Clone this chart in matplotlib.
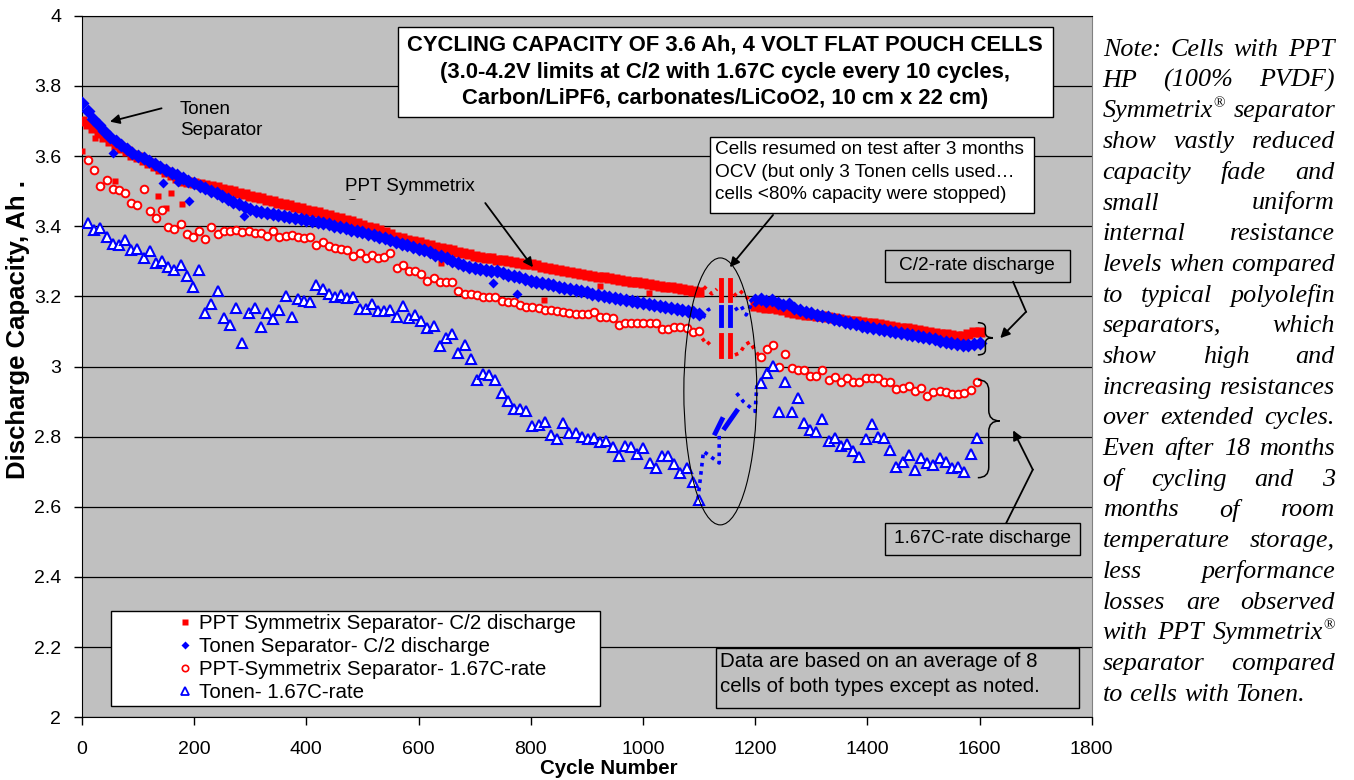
import matplotlib
matplotlib.use('Agg')
from matplotlib import pyplot as plt
from matplotlib.patches import Rectangle, Ellipse, PathPatch
from matplotlib.path import Path
from matplotlib.lines import Line2D
from matplotlib.font_manager import FontProperties
from matplotlib.transforms import Bbox, TransformedBbox
from matplotlib.ticker import FuncFormatter

plt.rcParams['font.family'] = ['Liberation Sans', 'DejaVu Sans']

# ---- data ----
# C/2 discharge, one reading every 10 cycles (before and after the 3 month OCV stop)
c2_cycles = list(range(0, 1101, 10)) + list(range(1200, 1601, 10))

ppt_c2 = [
    3.700, 3.690, 3.679, 3.667, 3.655, 3.643, 3.632, 3.622, 3.613, 3.604,
    3.596, 3.588, 3.580, 3.571, 3.563, 3.554, 3.546, 3.538, 3.530, 3.526,
    3.523, 3.520, 3.517, 3.514, 3.511, 3.507, 3.503, 3.499, 3.495, 3.491,
    3.487, 3.483, 3.479, 3.475, 3.471, 3.467, 3.463, 3.459, 3.455, 3.451,
    3.447, 3.443, 3.439, 3.435, 3.431, 3.427, 3.423, 3.418, 3.414, 3.409,
    3.404, 3.399, 3.394, 3.390, 3.384, 3.377, 3.370, 3.365, 3.361, 3.358,
    3.354, 3.349, 3.345, 3.341, 3.338, 3.334, 3.331, 3.327, 3.324, 3.321,
    3.316, 3.313, 3.310, 3.308, 3.305, 3.303, 3.300, 3.298, 3.295, 3.293,
    3.291, 3.288, 3.285, 3.282, 3.279, 3.276, 3.273, 3.270, 3.267, 3.264,
    3.261, 3.259, 3.256, 3.254, 3.252, 3.249, 3.247, 3.244, 3.242, 3.240,
    3.237, 3.235, 3.233, 3.230, 3.228, 3.226, 3.223, 3.221, 3.218, 3.215,
    3.212,
    3.172, 3.170, 3.168, 3.166, 3.163, 3.160, 3.156, 3.152, 3.150, 3.148,
    3.146, 3.144, 3.143, 3.141, 3.138, 3.135, 3.133, 3.131, 3.129, 3.127,
    3.125, 3.123, 3.121, 3.119, 3.116, 3.114, 3.111, 3.109, 3.106, 3.103,
    3.101, 3.099, 3.096, 3.094, 3.092, 3.090, 3.088, 3.088, 3.092, 3.097,
    3.099,
]
ppt_c2_odd_cycles = [0, 23, 59, 135, 150, 158, 178, 334, 640, 824, 923, 1010]
ppt_c2_odd = [3.615, 3.652, 3.530, 3.486, 3.451, 3.496, 3.463, 3.432, 3.295, 3.190, 3.230, 3.209]

tonen_c2 = [
    3.750, 3.728, 3.706, 3.688, 3.670, 3.655, 3.642, 3.630, 3.620, 3.610,
    3.601, 3.593, 3.585, 3.577, 3.569, 3.561, 3.553, 3.545, 3.537, 3.529,
    3.522, 3.515, 3.508, 3.501, 3.494, 3.486, 3.478, 3.470, 3.462, 3.454,
    3.448, 3.444, 3.440, 3.437, 3.434, 3.431, 3.428, 3.425, 3.422, 3.420,
    3.418, 3.416, 3.413, 3.409, 3.405, 3.401, 3.398, 3.394, 3.390, 3.386,
    3.382, 3.378, 3.374, 3.370, 3.366, 3.361, 3.355, 3.350, 3.346, 3.342,
    3.336, 3.331, 3.325, 3.319, 3.314, 3.309, 3.302, 3.296, 3.289, 3.285,
    3.281, 3.278, 3.275, 3.272, 3.271, 3.266, 3.262, 3.258, 3.254, 3.249,
    3.244, 3.241, 3.238, 3.234, 3.231, 3.228, 3.224, 3.221, 3.217, 3.214,
    3.211, 3.208, 3.205, 3.202, 3.199, 3.196, 3.193, 3.190, 3.187, 3.184,
    3.181, 3.178, 3.175, 3.172, 3.169, 3.166, 3.163, 3.160, 3.157, 3.154,
    3.151,
    3.190, 3.192, 3.188, 3.190, 3.182, 3.175, 3.178, 3.168, 3.160, 3.156,
    3.152, 3.148, 3.144, 3.140, 3.136, 3.132, 3.128, 3.124, 3.120, 3.116,
    3.113, 3.110, 3.107, 3.104, 3.101, 3.098, 3.095, 3.092, 3.089, 3.086,
    3.083, 3.080, 3.077, 3.074, 3.071, 3.068, 3.065, 3.062, 3.061, 3.064,
    3.067,
]
tonen_c2_odd_cycles = [55, 145, 172, 191, 289, 732, 775]
tonen_c2_odd = [3.610, 3.524, 3.527, 3.473, 3.429, 3.238, 3.206]

# 1.67C-rate discharge, every 11th cycle
rate_cycles = list(range(11, 1101, 11)) + list(range(1210, 1596, 11))

ppt_rate = [
    3.589, 3.560, 3.515, 3.532, 3.505, 3.503, 3.494, 3.467, 3.460, 3.505,
    3.444, 3.423, 3.446, 3.397, 3.392, 3.406, 3.378, 3.370, 3.385, 3.363,
    3.399, 3.378, 3.387, 3.387, 3.388, 3.382, 3.385, 3.380, 3.380, 3.373,
    3.387, 3.368, 3.372, 3.375, 3.368, 3.366, 3.368, 3.347, 3.354, 3.344,
    3.339, 3.334, 3.333, 3.316, 3.323, 3.309, 3.318, 3.309, 3.311, 3.323,
    3.280, 3.290, 3.272, 3.273, 3.265, 3.245, 3.252, 3.241, 3.241, 3.240,
    3.216, 3.208, 3.207, 3.205, 3.198, 3.198, 3.197, 3.187, 3.185, 3.183,
    3.176, 3.171, 3.169, 3.166, 3.162, 3.160, 3.157, 3.155, 3.152, 3.150,
    3.149, 3.150, 3.154, 3.141, 3.142, 3.138, 3.117, 3.125, 3.124, 3.124,
    3.125, 3.124, 3.124, 3.107, 3.106, 3.112, 3.112, 3.109, 3.097, 3.100,
    3.027, 3.050, 3.062, 2.998, 3.035, 2.995, 2.991, 2.989, 2.974, 2.974,
    2.989, 2.962, 2.971, 2.957, 2.967, 2.957, 2.956, 2.967, 2.967, 2.967,
    2.957, 2.957, 2.936, 2.938, 2.943, 2.931, 2.938, 2.917, 2.926, 2.931,
    2.927, 2.921, 2.921, 2.924, 2.934, 2.955,
]

tonen_rate = [
    3.409, 3.390, 3.395, 3.369, 3.350, 3.345, 3.360, 3.331, 3.335, 3.310,
    3.329, 3.295, 3.300, 3.284, 3.276, 3.288, 3.259, 3.227, 3.274, 3.153,
    3.177, 3.214, 3.137, 3.118, 3.167, 3.068, 3.153, 3.167, 3.112, 3.153,
    3.134, 3.162, 3.202, 3.140, 3.193, 3.186, 3.183, 3.231, 3.221, 3.208,
    3.199, 3.203, 3.194, 3.197, 3.165, 3.165, 3.179, 3.158, 3.158, 3.162,
    3.142, 3.172, 3.139, 3.146, 3.129, 3.110, 3.115, 3.058, 3.082, 3.093,
    3.039, 3.061, 3.022, 2.961, 2.979, 2.977, 2.962, 2.925, 2.902, 2.878,
    2.878, 2.873, 2.830, 2.834, 2.843, 2.806, 2.794, 2.840, 2.811, 2.811,
    2.799, 2.794, 2.797, 2.785, 2.787, 2.770, 2.746, 2.773, 2.770, 2.751,
    2.768, 2.724, 2.710, 2.746, 2.746, 2.721, 2.695, 2.711, 2.672, 2.620,
    2.953, 2.982, 3.001, 2.870, 2.955, 2.870, 2.911, 2.840, 2.818, 2.814,
    2.849, 2.787, 2.797, 2.773, 2.778, 2.759, 2.742, 2.794, 2.835, 2.800,
    2.797, 2.761, 2.714, 2.728, 2.749, 2.705, 2.738, 2.726, 2.719, 2.740,
    2.728, 2.711, 2.714, 2.700, 2.751, 2.797,
]

series_labels = ['PPT Symmetrix Separator- C/2 discharge', 'Tonen Separator- C/2 discharge',
                 'PPT-Symmetrix Separator- 1.67C-rate', 'Tonen- 1.67C-rate']

note_lines = [
    'Note: Cells with PPT', 'HP (100% PVDF)', 'Symmetrix® separator', 'show vastly reduced',
    'capacity fade and', 'small uniform', 'internal resistance', 'levels when compared',
    'to typical polyolefin', 'separators, which', 'show high and', 'increasing resistances',
    'over extended cycles.', 'Even after 18 months', 'of cycling and 3', 'months of room',
    'temperature storage,', 'less performance', 'losses are observed', 'with PPT Symmetrix®',
    'separator compared', 'to cells with Tonen.',
]

RED = '#FF0000'
BLUE = '#0000FF'
GRAY = '#C0C0C0'

W, H = 1354, 780
fig = plt.figure(figsize=(W / 100, H / 100), dpi=100)
ax = fig.add_axes([81.9 / W, 62.7 / H, 1009.8 / W, 701.6 / H])
ax.set_facecolor(GRAY)
ax.set_xlim(0, 1800)
ax.set_ylim(2, 4)
ax.set_xticks(range(0, 1801, 200))
ax.set_yticks([2 + 0.2 * i for i in range(11)])
ax.yaxis.set_major_formatter(FuncFormatter(lambda v, p: '%g' % round(v, 1)))
ax.yaxis.grid(True, color='black', lw=0.9)
ax.set_axisbelow(True)
ax.tick_params(direction='out', length=6, width=1, labelsize=14, colors='black')
ax.tick_params(axis='x', pad=11)
ax.tick_params(axis='y', pad=9)
for s in ['left', 'bottom', 'top']:
    ax.spines[s].set_color('black')
ax.spines['right'].set_color('#808080')

# ---- series ----
ax.plot(c2_cycles, ppt_c2, 's', color=RED, ms=6.6, mec='none', zorder=3)
ax.plot(ppt_c2_odd_cycles, ppt_c2_odd, 's', color=RED, ms=4.6, mec='none', zorder=3)
ax.plot(c2_cycles, tonen_c2, 'D', color=BLUE, ms=7.0, mec='none', zorder=3)
ax.plot(tonen_c2_odd_cycles, tonen_c2_odd, 'D', color=BLUE, ms=5.2, mec='none', zorder=3)
ax.plot(rate_cycles, ppt_rate, 'o', mfc='white', mec=RED, mew=1.4, ms=5.5, zorder=4)
ax.plot(rate_cycles, tonen_rate, '^', mfc='white', mec=BLUE, mew=1.5, ms=7.5, zorder=4)

# ---- break marks in the storage gap ----
dots = dict(ls=(0, (1, 1.3)), lw=2.6, zorder=3)
ax.plot([1096, 1107, 1123, 1132], [3.219, 3.230, 3.207, 3.221], color=RED, **dots)
ax.plot([1162, 1173, 1184, 1196], [3.201, 3.216, 3.199, 3.180], color=RED, **dots)
ax.plot([1097, 1107, 1116, 1125], [3.155, 3.138, 3.161, 3.170], color=BLUE, **dots)
ax.plot([1164, 1175, 1184, 1193], [3.161, 3.173, 3.147, 3.176], color=BLUE, **dots)
ax.plot([1098, 1105, 1114, 1123], [3.100, 3.082, 3.062, 3.076], color=RED, **dots)
ax.plot([1164, 1173, 1182, 1191, 1199, 1208], [3.033, 3.039, 3.062, 3.070, 3.048, 3.028], color=RED, **dots)
ax.plot([1098, 1108, 1120, 1136, 1136], [2.621, 2.758, 2.744, 2.725, 2.810], color=BLUE, **dots)
ax.plot([1167, 1179, 1200, 1203, 1209], [2.924, 2.900, 2.872, 2.943, 2.953], color=BLUE, **dots)
for bx in (1139, 1155):
    ax.plot([bx, bx], [3.189, 3.247], color=RED, lw=3.5, zorder=3)
    ax.plot([bx, bx], [3.119, 3.171], color=BLUE, lw=3.5, zorder=3)
    ax.plot([bx, bx], [3.030, 3.090], color=RED, lw=3.5, zorder=3)
ax.plot([1129, 1141], [2.810, 2.849], color=BLUE, lw=3.5, zorder=3)
ax.plot([1146, 1167], [2.825, 2.873], color=BLUE, lw=3.5, zorder=3)
ax.add_patch(Ellipse((1138, 2.929), 130, 0.761, fill=False, ec='black', lw=0.8, zorder=5))

# ---- annotations ----
arrow = dict(arrowstyle='-|>', color='black', lw=1.3, mutation_scale=14, shrinkA=0, shrinkB=0)
ax.annotate('', xy=(50, 3.698), xytext=(142, 3.736), arrowprops=arrow, zorder=6)
ax.text(175, 3.703, 'Tonen\nSeparator', fontsize=13.5, va='center', ha='left',
        linespacing=1.25, zorder=6)

ax.text(469, 3.512, 'PPT Symmetrix', fontsize=13.5, va='center', ha='left', zorder=2)
t2 = ax.text(469, 3.452, 'Separator', fontsize=13.5, va='center', ha='left', zorder=2)
t2.set_clip_box(TransformedBbox(Bbox([[300, 3.474], [900, 3.7]]), ax.transData))
t2.set_clip_on(True)
ax.annotate('', xy=(804, 3.283), xytext=(719, 3.466), arrowprops=arrow, zorder=6)

ax.add_patch(Rectangle((564, 3.711), 1167, 0.257, fc='white', ec='black', lw=1, zorder=6))
for ty, line in zip([3.917, 3.838, 3.764],
                    ['CYCLING CAPACITY OF 3.6 Ah, 4 VOLT FLAT POUCH CELLS',
                     '(3.0-4.2V limits at C/2 with 1.67C cycle every 10 cycles,',
                     'Carbon/LiPF6, carbonates/LiCoO2, 10 cm x 22 cm)']):
    ax.text(1147, ty, line, fontsize=15.8, fontweight='bold', ha='center', va='center', zorder=7)

ax.add_patch(Rectangle((1119.5, 3.438), 578, 0.216, fc='white', ec='black', lw=1, zorder=6))
for ty, line in zip([3.620, 3.554, 3.489],
                    ['Cells resumed on test after 3 months',
                     'OCV (but only 3 Tonen cells used\u2026',
                     'cells <80% capacity were stopped)']):
    ax.text(1129, ty, line, fontsize=13.7, ha='left', va='center', zorder=7)
ax.annotate('', xy=(1155, 3.283), xytext=(1232, 3.432), arrowprops=arrow, zorder=6)

ax.add_patch(Rectangle((1431, 3.241), 330, 0.091, fc=GRAY, ec='black', lw=1, zorder=6))
ax.text(1596, 3.2865, 'C/2-rate discharge', fontsize=13.7, ha='center', va='center', zorder=7)
ax.add_patch(Rectangle((1431, 2.464), 348, 0.091, fc=GRAY, ec='black', lw=1, zorder=6))
ax.text(1605, 2.5095, '1.67C-rate discharge', fontsize=13.7, ha='center', va='center', zorder=7)

ax.plot([1660, 1683], [3.241, 3.156], color='black', lw=1.3, zorder=6)
ax.annotate('', xy=(1637, 3.081), xytext=(1683, 3.156), arrowprops=arrow, zorder=6)
ax.plot([1648, 1695], [2.555, 2.706], color='black', lw=1.3, zorder=6)
ax.annotate('', xy=(1660, 2.818), xytext=(1695, 2.706), arrowprops=arrow, zorder=6)


def brace(x, y0, ym, y1, w, r):
    xm = x + w / 2
    verts = [(x, y1), (xm, y1), (xm, y1 - r), (xm, ym + r), (xm, ym), (x + w, ym),
             (xm, ym), (xm, ym - r), (xm, y0 + r), (xm, y0), (x, y0)]
    codes = [Path.MOVETO, Path.CURVE3, Path.CURVE3, Path.LINETO, Path.CURVE3, Path.CURVE3,
             Path.CURVE3, Path.CURVE3, Path.LINETO, Path.CURVE3, Path.CURVE3]
    ax.add_patch(PathPatch(Path(verts, codes), fill=False, ec='black', lw=1.1, zorder=6))


brace(1597, 3.033, 3.082, 3.125, 27, 0.014)
brace(1597, 2.683, 2.845, 2.962, 39, 0.03)

ax.add_patch(Rectangle((1130, 2.027), 647, 0.171, fc=GRAY, ec='black', lw=1, zorder=6))
ax.text(1138, 2.159, 'Data are based on an average of 8', fontsize=14.8, ha='left', va='center', zorder=7)
ax.text(1138, 2.087, 'cells of both types except as noted.', fontsize=14.8, ha='left', va='center', zorder=7)

# legend with its own white frame
ax.add_patch(Rectangle((52, 2.033), 872, 0.271, fc='white', ec='black', lw=1, zorder=6))
handles = [
    Line2D([], [], ls='none', marker='s', color=RED, mec='none', ms=4.4),
    Line2D([], [], ls='none', marker='D', color=BLUE, mec='none', ms=4.0),
    Line2D([], [], ls='none', marker='o', mfc='white', mec=RED, mew=1.2, ms=4.6),
    Line2D([], [], ls='none', marker='^', mfc='white', mec=BLUE, mew=1.3, ms=6.2),
]
leg = ax.legend(handles, series_labels, loc='upper left', bbox_to_anchor=(0.0937, 0.1472),
                frameon=False, fontsize=14.8, handlelength=0.8, handletextpad=0.3,
                borderpad=0, borderaxespad=0, labelspacing=0.2)
leg.set_zorder(7)

fig.text(609 / W, 1 - 768 / H, 'Cycle Number', fontsize=14.8, fontweight='bold',
         ha='center', va='center')
fig.text(18 / W, 1 - 329.5 / H, 'Discharge Capacity, Ah .', fontsize=18.5, fontweight='bold',
         ha='center', va='center', rotation=90)

# ---- justified italic note on the right ----
fig.canvas.draw()
renderer = fig.canvas.get_renderer()
fp = FontProperties(family='Liberation Serif', style='italic', size=18.8)
fp_sup = FontProperties(family='Liberation Serif', size=11)
x0, x1 = 1102.7, 1335.0


def width(s, prop):
    return renderer.get_text_width_height_descent(s, prop, ismath=False)[0]


for i, line in enumerate(note_lines):
    words = line.split()
    widths = []
    for wd in words:
        if wd.endswith('®'):
            widths.append(width(wd[:-1], fp) + width('®', fp_sup))
        else:
            widths.append(width(wd, fp))
    if i == len(note_lines) - 1:
        gap = width('a b', fp) - width('ab', fp)
    else:
        gap = (x1 - x0 - sum(widths)) / (len(words) - 1)
    base = 56 + 30.7 * i
    x = x0
    for wd, ww in zip(words, widths):
        if wd.endswith('®'):
            fig.text(x / W, 1 - base / H, wd[:-1], fontproperties=fp, va='baseline', ha='left')
            fig.text((x + width(wd[:-1], fp)) / W, 1 - (base - 10) / H, '®',
                     fontproperties=fp_sup, va='baseline', ha='left')
        else:
            fig.text(x / W, 1 - base / H, wd, fontproperties=fp, va='baseline', ha='left')
        x += ww + gap

fig.savefig('out.png', dpi=100)
